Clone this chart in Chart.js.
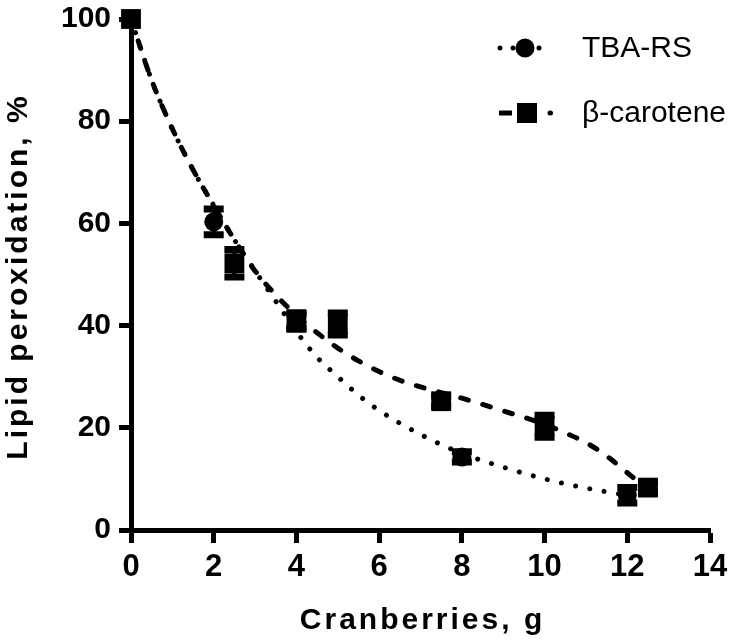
<!DOCTYPE html>
<html>
<head>
<meta charset="utf-8">
<script src="https://cdn.jsdelivr.net/npm/chart.js@4.4.0/dist/chart.umd.min.js"></script>
<style>
  html, body { margin: 0; padding: 0; background: #fff; }
  #wrap { width: 750px; height: 643px; }
</style>
</head>
<body>
<div id="wrap"><canvas id="chart"></canvas></div>
<script>
const seriesNames = ["TBA-RS", "β-carotene"];
const xTitle = "Cranberries, g";
const yTitle = "Lipid peroxidation, %";

const xTicks = [0, 2, 4, 6, 8, 10, 12, 14];
const yTicks = [0, 20, 40, 60, 80, 100];

// measured points
const tbaX = [0, 2, 4, 8, 12];
const tbaY = [100, 60.3, 41, 14.3, 6.8];
const tbaErr = [0, 2.5, 1.5, 1, 1.5];

const betaX = [0, 2.5, 4, 5, 7.5, 10, 12.5];
const betaY = [100, 52.2, 40.8, 40.3, 25.2, 20.3, 8.3];
const betaErr = [0, 2.7, 1.5, 2.15, 1, 2.15, 1];

// fitted curves
const tbaFitX = [0, 0.5, 1, 1.5, 2, 2.5, 3, 3.5, 4, 4.5, 5, 5.5, 6, 7, 8, 9, 10, 11, 12];
const tbaFitY = [100, 88, 78.5, 70.5, 63.5, 56.8, 50.7, 44.8, 38.8, 33.8, 30, 26.4, 23.4, 18.7, 15, 12.3, 10, 8.2, 6.8];
const betaFitX = [0, 0.5, 1, 1.5, 2, 2.5, 3, 3.5, 4, 4.5, 5, 5.5, 6, 6.5, 7, 8, 9, 10, 10.5, 11, 11.5, 12, 12.5];
const betaFitY = [100, 88, 78.5, 70.5, 63.5, 56.8, 50.7, 46, 42, 38.6, 35.6, 33.1, 31, 29.3, 28, 25.8, 23.3, 20.7, 19, 17.1, 14.5, 11.2, 7.9];

const FONT = "'Liberation Sans', Arial, sans-serif";

function pts(xs, ys) {
  return xs.map((x, i) => ({ x: x, y: ys[i] }));
}

/* error bars */
const errorBars = {
  id: "errorBars",
  afterDatasetsDraw(chart) {
    const ctx = chart.ctx;
    const xs = chart.scales.x, ys = chart.scales.y;
    const sets = [[tbaX, tbaY, tbaErr], [betaX, betaY, betaErr]];
    ctx.save();
    ctx.strokeStyle = "#000";
    sets.forEach(([X, Y, E]) => {
      X.forEach((x, i) => {
        if (!E[i]) return;
        const px = xs.getPixelForValue(x);
        const top = ys.getPixelForValue(Y[i] + E[i]);
        const bot = ys.getPixelForValue(Y[i] - E[i]);
        ctx.lineWidth = 4;
        ctx.beginPath();
        ctx.moveTo(px, top);
        ctx.lineTo(px, bot);
        ctx.stroke();
        ctx.lineWidth = 7;
        ctx.beginPath();
        ctx.moveTo(px - 10, top);
        ctx.lineTo(px + 10, top);
        ctx.moveTo(px - 10, bot);
        ctx.lineTo(px + 10, bot);
        ctx.stroke();
      });
    });
    ctx.restore();
  },
};

/* axis titles, letter-spaced like the original */
const axisTitles = {
  id: "axisTitles",
  afterDraw(chart) {
    const ctx = chart.ctx;
    const a = chart.chartArea;
    ctx.save();
    ctx.fillStyle = "#000";
    ctx.font = "bold 30px " + FONT;
    ctx.letterSpacing = "3px";
    ctx.textAlign = "center";
    ctx.textBaseline = "alphabetic";
    ctx.fillText(xTitle, (a.left + a.right) / 2 + 2, 629);
    ctx.translate(27, (a.top + a.bottom) / 2 + 2);
    ctx.rotate(-Math.PI / 2);
    ctx.fillText(yTitle, 0, 0);
    ctx.restore();
  },
};

/* legend: line + marker + label */
const legendBox = {
  id: "legendBox",
  afterDraw(chart) {
    const ctx = chart.ctx;
    ctx.save();
    ctx.fillStyle = "#000";
    ctx.strokeStyle = "#000";

    // TBA-RS
    ctx.lineWidth = 5;
    ctx.lineCap = "round";
    ctx.setLineDash([0.01, 13]);
    ctx.beginPath();
    ctx.moveTo(500, 48);
    ctx.lineTo(552, 48);
    ctx.stroke();
    ctx.setLineDash([]);
    ctx.beginPath();
    ctx.arc(525, 48, 9.5, 0, Math.PI * 2);
    ctx.fill();

    // β-carotene
    ctx.lineCap = "butt";
    ctx.beginPath();
    ctx.moveTo(499, 113);
    ctx.lineTo(512, 113);
    ctx.stroke();
    ctx.fillRect(517, 103, 20, 20);
    ctx.lineCap = "round";
    ctx.beginPath();
    ctx.moveTo(550, 113);
    ctx.lineTo(550.5, 113);
    ctx.stroke();

    ctx.font = "30px " + FONT;
    ctx.textBaseline = "alphabetic";
    ctx.textAlign = "left";
    ctx.fillText(seriesNames[0], 582, 57);
    ctx.fillText(seriesNames[1], 582, 122);
    ctx.restore();
  },
};

const ctx = document.getElementById("chart").getContext("2d");

const chart = new Chart(ctx, {
  type: "scatter",
  data: {
    datasets: [
      {
        label: seriesNames[0],
        data: pts(tbaX, tbaY),
        showLine: false,
        pointStyle: "circle",
        pointRadius: 9.5,
        pointBackgroundColor: "#000",
        pointBorderWidth: 0,
        clip: false,
        order: 0,
      },
      {
        label: seriesNames[1],
        data: pts(betaX, betaY),
        showLine: false,
        pointStyle: "rect",
        pointRadius: 14,
        pointBackgroundColor: "#000",
        pointBorderWidth: 0,
        clip: false,
        order: 0,
      },
      {
        label: seriesNames[0] + " fit",
        data: pts(tbaFitX, tbaFitY),
        showLine: true,
        pointRadius: 0,
        borderColor: "#000",
        borderWidth: 5,
        borderDash: [0.01, 14.5],
        borderCapStyle: "round",
        cubicInterpolationMode: "monotone",
        order: 1,
      },
      {
        label: seriesNames[1] + " fit",
        data: pts(betaFitX, betaFitY),
        showLine: true,
        pointRadius: 0,
        borderColor: "#000",
        borderWidth: 5,
        borderDash: [8, 15],
        borderCapStyle: "round",
        cubicInterpolationMode: "monotone",
        order: 1,
      },
    ],
  },
  options: {
    responsive: true,
    maintainAspectRatio: false,
    animation: false,
    layout: { padding: { left: 0, right: 40, top: 19, bottom: 0 } },
    plugins: {
      legend: { display: false },
      tooltip: { enabled: false },
    },
    scales: {
      x: {
        type: "linear",
        min: 0,
        max: 14,
        afterBuildTicks: (s) => { s.ticks = xTicks.map((v) => ({ value: v })); },
        afterFit: (s) => { s.height = 113; s.paddingLeft = 0; s.paddingRight = 0; },
        grid: { drawOnChartArea: false, drawTicks: true, tickLength: 13, tickWidth: 5, color: "#000" },
        border: { display: true, width: 5, color: "#000" },
        ticks: { color: "#000", padding: 9, font: { family: FONT, size: 31, weight: "bold", lineHeight: 1 } },
        title: { display: false, text: xTitle },
      },
      y: {
        type: "linear",
        min: 0,
        max: 100,
        afterBuildTicks: (s) => { s.ticks = yTicks.map((v) => ({ value: v })); },
        afterFit: (s) => { s.width = 131; s.paddingTop = 0; s.paddingBottom = 0; },
        grid: { drawOnChartArea: false, drawTicks: true, tickLength: 12, tickWidth: 5, color: "#000" },
        border: { display: true, width: 5, color: "#000" },
        ticks: { color: "#000", padding: 8, font: { family: FONT, size: 30, weight: "bold", lineHeight: 1 } },
        title: { display: false, text: yTitle },
      },
    },
  },
  plugins: [errorBars, axisTitles, legendBox],
});
</script>
</body>
</html>
